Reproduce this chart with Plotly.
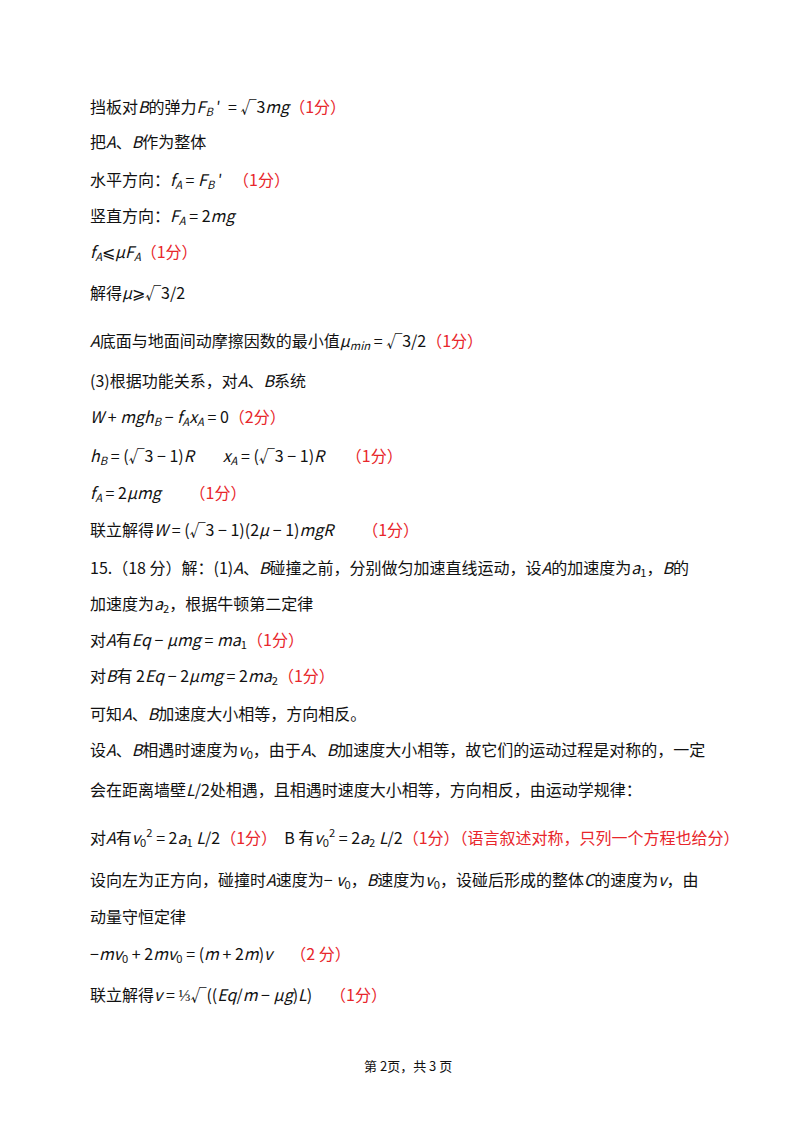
import plotly.graph_objects as go

R = "<span style='color:#e8262b'>{}</span>"
lines_text = [
    "挡板对<i>B</i>的弹力<i>F<sub>B</sub></i> ′  = √3<i>mg</i>" + R.format("（1分）"),
    "把<i>A</i>、<i>B</i>作为整体",
    "水平方向：<i>f<sub>A</sub></i> = <i>F<sub>B</sub></i> ′   " + R.format("（1分）"),
    "竖直方向：<i>F<sub>A</sub></i> = 2<i>mg</i>",
    "<i>f<sub>A</sub></i>⩽<i>μF<sub>A</sub></i>" + R.format("（1分）"),
    "解得<i>μ</i>⩾√3/2",
    "<i>A</i>底面与地面间动摩擦因数的最小值<i>μ<sub>min</sub></i> = √3/2" + R.format("（1分）"),
    "(3)根据功能关系，对<i>A</i>、<i>B</i>系统",
    "<i>W</i> + <i>mgh<sub>B</sub></i> − <i>f<sub>A</sub>x<sub>A</sub></i> = 0" + R.format("（2分）"),
    "<i>h<sub>B</sub></i> = (√3 − 1)<i>R</i>        <i>x<sub>A</sub></i> = (√3 − 1)<i>R</i>      " + R.format("（1分）"),
    "<i>f<sub>A</sub></i> = 2<i>μmg</i>        " + R.format("（1分）"),
    "联立解得<i>W</i> = (√3 − 1)(2<i>μ</i> − 1)<i>mgR</i>        " + R.format("（1分）"),
    "15.（18 分）解：(1)<i>A</i>、<i>B</i>碰撞之前，分别做匀加速直线运动，设<i>A</i>的加速度为<i>a</i><sub>1</sub>，<i>B</i>的",
    "加速度为<i>a</i><sub>2</sub>，根据牛顿第二定律",
    "对<i>A</i>有<i>Eq</i> − <i>μmg</i> = <i>ma</i><sub>1</sub>" + R.format("（1分）"),
    "对<i>B</i>有 2<i>Eq</i> − 2<i>μmg</i> = 2<i>ma</i><sub>2</sub>" + R.format("（1分）"),
    "可知<i>A</i>、<i>B</i>加速度大小相等，方向相反。",
    "设<i>A</i>、<i>B</i>相遇时速度为<i>v</i><sub>0</sub>，由于<i>A</i>、<i>B</i>加速度大小相等，故它们的运动过程是对称的，一定",
    "会在距离墙壁<i>L</i>/2处相遇，且相遇时速度大小相等，方向相反，由运动学规律：",
    "对<i>A</i>有<i>v</i><sub>0</sub><sup>2</sup> = 2<i>a</i><sub>1</sub> <i>L</i>/2" + R.format("（1分）") + "  B 有<i>v</i><sub>0</sub><sup>2</sup> = 2<i>a</i><sub>2</sub> <i>L</i>/2" + R.format("（1分）（语言叙述对称，只列一个方程也给分）"),
    "设向左为正方向，碰撞时<i>A</i>速度为− <i>v</i><sub>0</sub>，<i>B</i>速度为<i>v</i><sub>0</sub>，设碰后形成的整体<i>C</i>的速度为<i>v</i>，由",
    "动量守恒定律",
    "−<i>mv</i><sub>0</sub> + 2<i>mv</i><sub>0</sub> = (<i>m</i> + 2<i>m</i>)<i>v</i>     " + R.format("（2 分）"),
    "联立解得<i>v</i> = ⅓√((<i>Eq</i>/<i>m</i> − <i>μg</i>)<i>L</i>)     " + R.format("（1分）"),
]
lines_y = [107, 142, 180, 216, 252, 293, 341, 381, 417, 456, 493, 530, 568, 604,
           640, 676, 714, 750, 790, 838, 880, 917, 954, 995]
footer = "第 2页，共 3 页"

fig = go.Figure()
for t, y in zip(lines_text, lines_y):
    fig.add_annotation(x=80, y=y - 9, text=t, showarrow=False, xanchor="left", yanchor="middle",
                       font=dict(size=16, color="#111", family="Noto Sans CJK SC"))
fig.add_annotation(x=400, y=1057, text=footer, showarrow=False, xanchor="center",
                   font=dict(size=13, color="#111", family="Noto Sans CJK SC"))
fig.update_layout(width=800, height=1130, margin=dict(l=0, r=0, t=0, b=0),
                  paper_bgcolor="white", plot_bgcolor="white",
                  xaxis=dict(range=[0, 800], visible=False),
                  yaxis=dict(range=[1130, 0], visible=False))
fig.write_html("out.html")
